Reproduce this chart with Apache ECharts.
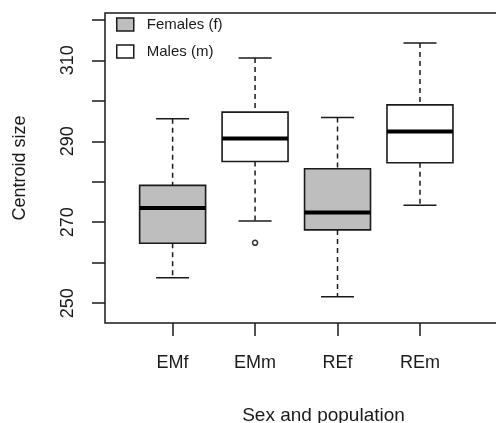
<!DOCTYPE html>
<html>
<head>
<meta charset="utf-8">
<script src="https://cdn.jsdelivr.net/npm/echarts@6/dist/echarts.min.js"></script>
<style>
html,body{margin:0;padding:0;background:#fff;overflow:hidden;}
#chart{width:496px;height:423px;}
</style>
</head>
<body>
<div id="chart"></div>
<script>
// ---- data ----
var categories = ['EMf', 'EMm', 'REf', 'REm'];
var positions = [1, 2, 3, 4];
var sexGroup = ['Females (f)', 'Males (m)', 'Females (f)', 'Males (m)'];
var lowerWhisker = [256.3, 270.3, 251.6, 274.2];
var q1 = [264.8, 285.0, 268.1, 284.7];
var median = [273.5, 290.7, 272.4, 292.4];
var q3 = [279.1, 297.2, 283.2, 299.0];
var upperWhisker = [295.6, 310.6, 295.9, 314.3];
var outlierPos = [2];
var outlierVal = [264.9];
var yTicks = [250, 260, 270, 280, 290, 300, 310, 320];
var yLabels = [250, 270, 290, 310];
var legendNames = ['Females (f)', 'Males (m)'];
var fills = {'Females (f)': '#bebebe', 'Males (m)': '#ffffff'};

var FONT = 'Liberation Sans, Arial, Helvetica, sans-serif';
var INK = '#1a1a1a';

function buildData(name) {
  var out = [];
  for (var i = 0; i < categories.length; i++) {
    if (sexGroup[i] === name) {
      out.push([positions[i], lowerWhisker[i], q1[i], median[i], q3[i], upperWhisker[i]]);
    }
  }
  return out;
}

function renderBox(fill) {
  return function (params, api) {
    var x = api.value(0);
    var lw = api.value(1), a = api.value(2), m = api.value(3), b = api.value(4), uw = api.value(5);
    var pL = api.coord([x - 0.4, b]);
    var pR = api.coord([x + 0.4, a]);
    var mL = api.coord([x - 0.4, m]);
    var mR = api.coord([x + 0.4, m]);
    var cU = api.coord([x, uw]);
    var cB3 = api.coord([x, b]);
    var cB1 = api.coord([x, a]);
    var cL = api.coord([x, lw]);
    var capL = api.coord([x - 0.2, 0])[0];
    var capR = api.coord([x + 0.2, 0])[0];
    var dash = {stroke: INK, lineWidth: 1.5, lineDash: [5, 4]};
    var solid = {stroke: INK, lineWidth: 1.5};
    return {
      type: 'group',
      children: [
        {type: 'line', shape: {x1: cU[0], y1: cU[1], x2: cB3[0], y2: cB3[1]}, style: dash},
        {type: 'line', shape: {x1: cB1[0], y1: cB1[1], x2: cL[0], y2: cL[1]}, style: dash},
        {type: 'line', shape: {x1: capL, y1: cU[1], x2: capR, y2: cU[1]}, style: solid},
        {type: 'line', shape: {x1: capL, y1: cL[1], x2: capR, y2: cL[1]}, style: solid},
        {type: 'rect', shape: {x: pL[0], y: pL[1], width: pR[0] - pL[0], height: pR[1] - pL[1]},
          style: {fill: fill, stroke: INK, lineWidth: 1.6}},
        {type: 'line', shape: {x1: mL[0], y1: mL[1], x2: mR[0], y2: mR[1]}, style: {stroke: '#000', lineWidth: 4}}
      ]
    };
  };
}

var outlierData = outlierPos.map(function (p, i) { return [p, outlierVal[i]]; });

var chart = echarts.init(document.getElementById('chart'), null, {renderer: 'canvas'});
chart.setOption({
  animation: false,
  backgroundColor: '#fff',
  textStyle: {fontFamily: FONT},
  grid: {left: 105, width: 437, top: 13, height: 310, show: true, borderColor: INK, borderWidth: 1.5,
    containLabel: false, outerBoundsMode: 'none'},
  legend: {
    orient: 'vertical', left: 111, top: 12,
    itemWidth: 17, itemHeight: 13, itemGap: 12,
    textStyle: {fontFamily: FONT, fontSize: 15, lineHeight: 15, color: INK, padding: [0, 0, 0, 8]},
    data: legendNames.map(function (n) {
      return {name: n, icon: 'rect', itemStyle: {color: fills[n], borderColor: INK, borderWidth: 1.5}};
    })
  },
  xAxis: {
    type: 'value', min: 0.18, max: 5.48,
    name: 'Sex and population', nameLocation: 'middle', nameGap: 83,
    nameTextStyle: {fontFamily: FONT, fontSize: 19, color: INK},
    axisLine: {show: false},
    splitLine: {show: false},
    axisTick: {show: true, inside: false, length: 13, lineStyle: {color: INK, width: 1.5}, customValues: positions},
    axisLabel: {show: true, margin: 31, fontFamily: FONT, fontSize: 18, color: INK, customValues: positions,
      formatter: function (v) { var i = positions.indexOf(v); return i >= 0 ? categories[i] : ''; }}
  },
  yAxis: {
    type: 'value', min: 245.1, max: 321.7,
    name: 'Centroid size', nameLocation: 'middle', nameGap: 76,
    nameTextStyle: {fontFamily: FONT, fontSize: 18, color: INK},
    axisLine: {show: false},
    splitLine: {show: false},
    axisTick: {show: true, inside: false, length: 13, lineStyle: {color: INK, width: 1.5}, customValues: yTicks},
    axisLabel: {show: true, rotate: 90, margin: 28, fontFamily: FONT, fontSize: 18, color: INK, customValues: yLabels}
  },
  series: [
    {name: legendNames[0], type: 'custom', renderItem: renderBox(fills[legendNames[0]]), data: buildData(legendNames[0]),
      itemStyle: {color: fills[legendNames[0]]}, encode: {x: 0, y: [1, 2, 3, 4, 5]}},
    {name: legendNames[1], type: 'custom', renderItem: renderBox(fills[legendNames[1]]), data: buildData(legendNames[1]),
      itemStyle: {color: fills[legendNames[1]]}, encode: {x: 0, y: [1, 2, 3, 4, 5]}},
    {name: 'outliers', type: 'scatter', data: outlierData, symbol: 'circle', symbolSize: 5,
      itemStyle: {color: '#fff', borderColor: '#000', borderWidth: 1.5}}
  ]
});
</script>
</body>
</html>
